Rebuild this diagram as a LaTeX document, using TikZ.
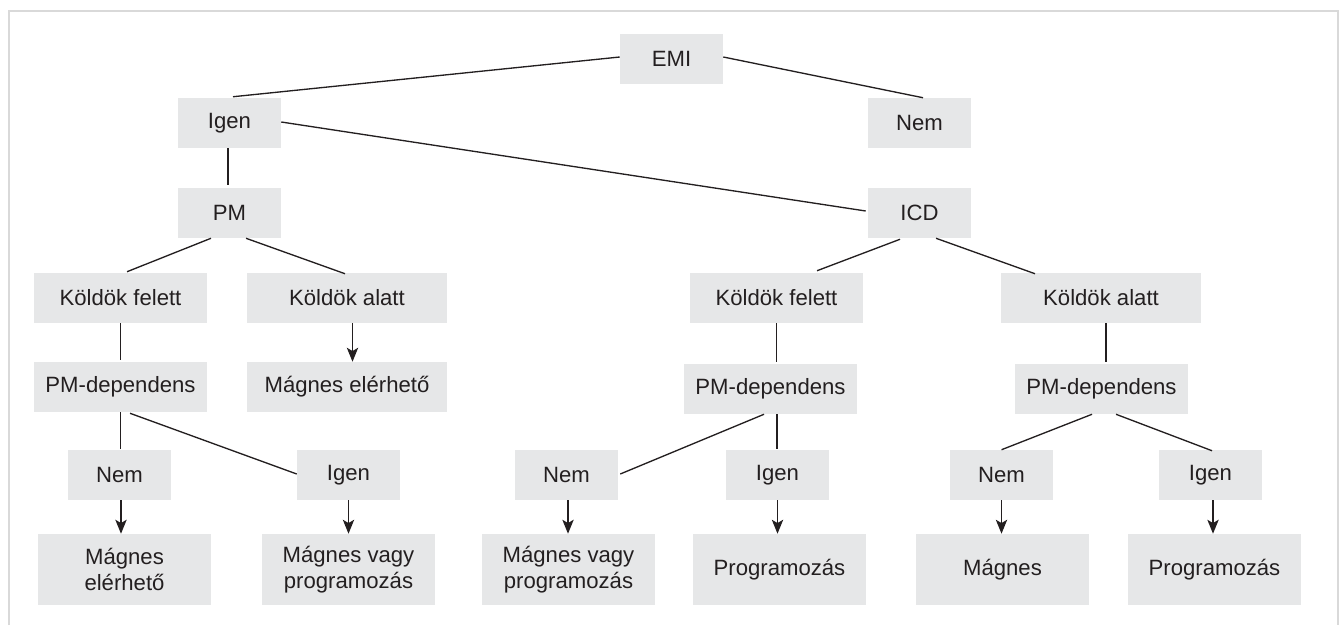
\documentclass[tikz,border=0pt]{standalone}
\usepackage{fontspec}
\setmainfont{Liberation Sans}
\usetikzlibrary{arrows.meta,calc}
\definecolor{boxgray}{HTML}{E6E7E8}
\definecolor{ink}{HTML}{231F20}
\definecolor{framegray}{HTML}{D9D9D9}
\begin{document}
\begin{tikzpicture}[x=0.75pt,y=-0.75pt,
  box/.style={fill=boxgray,inner sep=0pt,align=center,text=ink,
    font=\fontsize{16.6}{20}\selectfont,minimum height=37.5pt},
  sbox/.style={box,minimum width=77.25pt},
  mbox/.style={box,minimum width=129.75pt},
  lbox/.style={box,minimum width=150pt},
  tbox/.style={box,minimum width=129.75pt,minimum height=53.25pt},
  conn/.style={draw=ink,line width=1pt},
  arr/.style={conn,-{Stealth[length=10.5pt,width=8.5pt,inset=2.5pt]}}]
\useasboundingbox (0,0) rectangle (1341,625);
\draw[framegray,line width=0.9pt] (9,625) -- (9,11) -- (1338,11) -- (1338,625);

% level 0-2
\node[sbox] (emi) at (671.5,59) {EMI};
\node[sbox] (igen1) at (229.5,123) {Igen};
\node[sbox] (nem1) at (919.5,123) {Nem};
\node[sbox] (pm) at (229.5,213) {PM};
\node[sbox] (icd) at (919.5,213) {ICD};

% level 3
\node[mbox] (kfa) at (120.5,298) {Köldök felett};
\node[lbox] (kaa) at (347,298) {Köldök alatt};
\node[mbox] (kfb) at (776.5,298) {Köldök felett};
\node[lbox] (kab) at (1101,298) {Köldök alatt};

% level 4
\node[mbox] (pda) at (120.5,387) {PM-dependens};
\node[lbox] (mea) at (347,387) {Mágnes elérhető};
\node[mbox] (pdb) at (770.5,389) {PM-dependens};
\node[mbox] (pdc) at (1101.5,389) {PM-dependens};

% level 5
\node[sbox] (nema) at (119.5,475) {Nem};
\node[sbox] (igena) at (348.5,475) {Igen};
\node[sbox] (nemb) at (566.5,475) {Nem};
\node[sbox] (igenb) at (777.5,475) {Igen};
\node[sbox] (nemc) at (1001.5,475) {Nem};
\node[sbox] (igenc) at (1210.5,475) {Igen};

% level 6
\node[tbox] (mag1) at (124.5,569.5) {Mágnes\\elérhető};
\node[tbox] (mvp1) at (348.5,569.5) {Mágnes vagy\\programozás};
\node[tbox] (mvp2) at (568.5,569.5) {Mágnes vagy\\programozás};
\node[tbox] (prog2) at (779.5,569.5) {Programozás};
\node[tbox] (mag3) at (1002.5,569.5) {Mágnes};
\node[tbox] (prog3) at (1214.5,569.5) {Programozás};

% connectors
\draw[conn] ($(emi.west)+(0,-2)$) -- ($(igen1.north)+(3.5,-1)$);
\draw[conn] ($(emi.east)+(0,-2)$) -- ($(nem1.north)+(3.5,0)$);
\draw[conn] ($(igen1.east)+(0,-1)$) -- ($(icd.west)+(-2,-2)$);
\draw[conn] ($(igen1.south)+(-1.5,0)$) -- ($(pm.north)+(-1.5,-3)$);
\draw[conn] ($(pm.south)+(-18.5,0)$) -- ($(kfa.north)+(6.5,-1)$);
\draw[conn] ($(pm.south)+(16.5,0)$) -- ($(kaa.north)+(-2,1)$);
\draw[conn] ($(icd.south)+(-19.5,1)$) -- ($(kfb.north)+(40.5,-2)$);
\draw[conn] ($(icd.south)+(16.5,0)$) -- ($(kab.north)+(-66,1)$);

\draw[conn] (kfa.south) -- ($(pda.north)+(0,-2)$);
\draw[arr] ($(kaa.south)+(5.5,0)$) -- ($(mea.north)+(5.5,0)$);
\draw[conn] (kfb.south) -- ($(kfb.south |- pdb.north)+(0,-2)$);
\draw[conn] ($(kab.south)+(5,0)$) -- ($(pdc.north)+(4.5,-2)$);

\draw[conn] (pda.south) -- ($(nema.north)+(1,-1)$);
\draw[conn] ($(pda.south)+(9.5,1)$) -- ($(igena.west)+(0,-1)$);
\draw[conn] ($(pdb.south)+(-6.5,0)$) -- ($(nemb.east)+(2,-1)$);
\draw[conn] ($(igenb.north |- pdb.south)+(-0.5,0)$) -- ($(igenb.north)+(-0.5,-1)$);
\draw[conn] ($(pdc.south)+(-9.5,0)$) -- (nemc.north);
\draw[conn] ($(pdc.south)+(14.5,0)$) -- ($(igenc.north)+(1.5,1)$);

\draw[arr] ($(nema.south)+(1.5,0)$) -- ($(nema.south |- mag1.north)+(1.5,0)$);
\draw[arr] (igena.south) -- (igena.south |- mvp1.north);
\draw[arr] ($(nemb.south)+(1.5,0)$) -- ($(nemb.south |- mvp2.north)+(1.5,0)$);
\draw[arr] (igenb.south) -- (igenb.south |- prog2.north);
\draw[arr] (nemc.south) -- (nemc.south |- mag3.north);
\draw[arr] ($(igenc.south)+(2.5,0)$) -- ($(igenc.south |- prog3.north)+(2.5,0)$);
\end{tikzpicture}
\end{document}
